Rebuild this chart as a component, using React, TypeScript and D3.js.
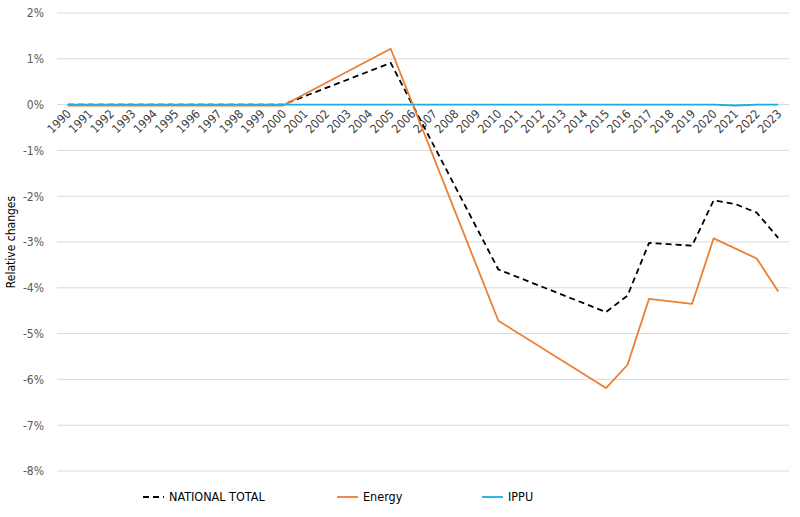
import * as d3 from "d3";
import * as React from "react";

const years = d3.range(1990, 2024).map(String);
const yTicks = [0.02, 0.01, 0, -0.01, -0.02, -0.03, -0.04, -0.05, -0.06, -0.07, -0.08];

// values only where the source has them; lines connect the gaps
const nationalYears = ["1990", "1991", "1992", "1993", "1994", "1995", "1996", "1997", "1998", "1999", "2000", "2005", "2010", "2015", "2016", "2017", "2019", "2020", "2021", "2022", "2023"];
const nationalValues = [0, 0, 0, 0, 0, 0, 0, 0, 0, 0, 0, 0.0091, -0.036, -0.0453, -0.0417, -0.0302, -0.0308, -0.0209, -0.0217, -0.0236, -0.0291];

const energyYears = ["1990", "1991", "1992", "1993", "1994", "1995", "1996", "1997", "1998", "1999", "2000", "2005", "2010", "2015", "2016", "2017", "2019", "2020", "2022", "2023"];
const energyValues = [-0.0002, -0.0002, -0.0002, -0.0002, -0.0002, -0.0002, -0.0002, -0.0002, -0.0002, -0.0002, -0.0002, 0.0122, -0.0472, -0.0619, -0.0568, -0.0424, -0.0435, -0.0292, -0.0336, -0.0408];

const ippuYears = years;
const ippuValues = years.map(y => (y === "2021" ? -0.0002 : 0));

const series = [
    { name: "NATIONAL TOTAL", years: nationalYears, values: nationalValues, color: "#000000", dash: "6,4", width: 1.8 },
    { name: "Energy", years: energyYears, values: energyValues, color: "#ED7D31", dash: null, width: 1.8 },
    { name: "IPPU", years: ippuYears, values: ippuValues, color: "#1AAEE8", dash: null, width: 1.8 },
];

const width = 800;
const height = 517;
const margin = { top: 13, right: 11, bottom: 46, left: 57 };
const font = "'DejaVu Sans Condensed', 'Liberation Sans Narrow', Lato, sans-serif";
const legendX = [143, 337, 482];

export default function App() {
    const ref = React.useRef<SVGSVGElement>(null);

    React.useEffect(() => {
        const svg = d3.select(ref.current!);
        svg.selectAll("*").remove();

        const x = d3.scalePoint()
            .domain(years)
            .range([margin.left, width - margin.right])
            .padding(0.5);

        const y = d3.scaleLinear()
            .domain([-0.08, 0.02])
            .range([height - margin.bottom, margin.top]);

        // grid
        svg.append("g")
            .selectAll("line")
            .data(yTicks)
            .join("line")
            .attr("x1", margin.left)
            .attr("x2", width - margin.right)
            .attr("y1", d => y(d))
            .attr("y2", d => y(d))
            .attr("stroke", "#d9d9d9")
            .attr("stroke-width", 1);

        svg.append("g").call(g => g
            .attr("transform", `translate(${margin.left},0)`)
            .call(d3.axisLeft(y).tickValues(yTicks).tickSize(0).tickPadding(13)
                .tickFormat(d => `${Math.round(+d * 100)}%`))
            .call(g => g.select(".domain").remove())
            .call(g => g.selectAll("text")
                .attr("fill", "#595959")
                .style("font-family", font)
                .style("font-stretch", "condensed")
                .style("font-size", "12px")));

        // category labels sit just under the zero line
        svg.append("g")
            .selectAll("text")
            .data(years)
            .join("text")
            .attr("transform", d => `translate(${x(d)! + 4},${y(0) + 10}) rotate(-45)`)
            .attr("text-anchor", "end")
            .attr("fill", "#404040")
            .style("font-family", font)
            .style("font-stretch", "condensed")
            .style("font-size", "12px")
            .text(d => d);

        svg.append("text")
            .attr("transform", `translate(15,${(margin.top + height - margin.bottom) / 2}) rotate(-90)`)
            .attr("text-anchor", "middle")
            .attr("fill", "#000")
            .style("font-family", font)
            .style("font-stretch", "condensed")
            .style("font-size", "12px")
            .text("Relative changes");

        const line = d3.line<[string, number]>()
            .x(d => x(d[0])!)
            .y(d => y(d[1]));

        // same order as the legend, so IPPU ends up on top
        series.forEach(s => {
            svg.append("path")
                .datum(s.years.map((yr, i) => [yr, s.values[i]] as [string, number]))
                .attr("d", line)
                .attr("fill", "none")
                .attr("stroke", s.color)
                .attr("stroke-width", s.width)
                .attr("stroke-dasharray", s.dash)
                .attr("stroke-linejoin", "round");
        });

        const legend = svg.append("g")
            .selectAll("g")
            .data(series)
            .join("g")
            .attr("transform", (d, i) => `translate(${legendX[i]},497)`);

        legend.append("line")
            .attr("x1", 0)
            .attr("x2", 21)
            .attr("stroke", d => d.color)
            .attr("stroke-width", d => d.width)
            .attr("stroke-dasharray", d => d.dash);

        legend.append("text")
            .attr("x", 26)
            .attr("dy", "0.35em")
            .attr("fill", "#000")
            .style("font-family", font)
            .style("font-stretch", "condensed")
            .style("font-size", "12.5px")
            .text(d => d.name);
    }, []);

    return <svg ref={ref} width={width} height={height}
        style={{ position: "absolute", left: 0, top: 0, background: "#fff" }} />;
}
